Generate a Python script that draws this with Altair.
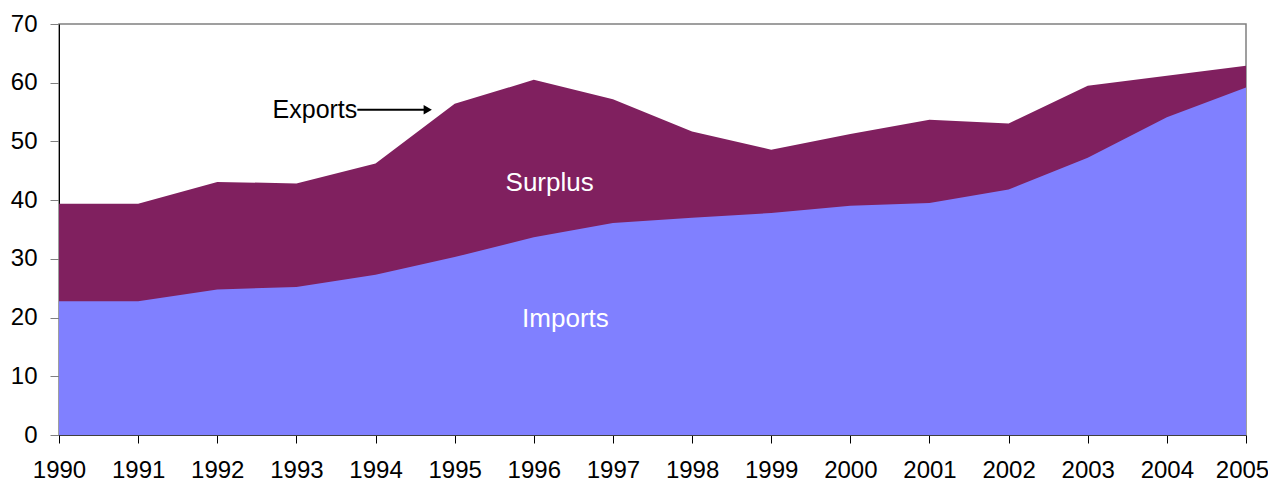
import altair as alt
import pandas as pd

years = list(range(1990, 2006))
exports = [39.4, 39.4, 43.1, 42.85, 46.25, 56.4, 60.5, 57.2, 51.7, 48.6, 51.25, 53.7, 53.05, 59.5, 61.2, 62.9]
imports = [22.8, 22.8, 24.8, 25.2, 27.3, 30.3, 33.7, 36.1, 37.0, 37.8, 39.05, 39.5, 41.8, 47.2, 54.1, 59.2]

df = pd.DataFrame({"year": years, "exports": exports, "imports": imports})

FONT = "Liberation Sans"
xs = alt.Scale(domain=[1990, 2005], nice=False, zero=False)
ys = alt.Scale(domain=[0, 70], nice=False)

x_enc = alt.X("year:Q", scale=xs, axis=alt.Axis(
    values=years, format="d", title=None, grid=False,
    labelFontSize=24, labelFont=FONT, labelColor="#000000",
    labelPadding=15, tickSize=8, tickColor="#000000",
    domainColor="#404040", labelFlush=False,
    labelOffset={"expr": "datum.value == 2005 ? -4 : 0"}))

exp_area = alt.Chart(df).mark_area(color="#80205F", opacity=1).encode(
    x=x_enc,
    y=alt.Y("exports:Q", scale=ys, axis=alt.Axis(
        values=list(range(0, 80, 10)), title=None, grid=False,
        labelFontSize=24, labelFont=FONT, labelColor="#000000",
        labelPadding=13, tickSize=9, tickColor="#808080",
        domainColor="#000000")),
)

imp_area = alt.Chart(df).mark_area(color="#8080FF", opacity=1).encode(
    x=alt.X("year:Q", scale=xs),
    y=alt.Y("imports:Q", scale=ys),
)

lab_df = pd.DataFrame({
    "x": [1996.2, 1996.4],
    "y": [43.0, 19.7],
    "t": ["Surplus", "Imports"],
})
labels = alt.Chart(lab_df).mark_text(
    color="white", fontSize=26, font=FONT, align="center", baseline="middle"
).encode(x=alt.X("x:Q", scale=xs), y=alt.Y("y:Q", scale=ys), text="t:N")

exp_df = pd.DataFrame({"x": [1993.77], "y": [55.4], "t": ["Exports"]})
exp_label = alt.Chart(exp_df).mark_text(
    color="black", fontSize=25, font=FONT, align="right", baseline="middle"
).encode(x=alt.X("x:Q", scale=xs), y=alt.Y("y:Q", scale=ys), text="t:N")

arrow_df = pd.DataFrame({"x": [1993.77], "x2": [1994.62], "y": [55.4]})
arrow_line = alt.Chart(arrow_df).mark_rule(color="black", strokeWidth=2).encode(
    x=alt.X("x:Q", scale=xs), x2="x2:Q", y=alt.Y("y:Q", scale=ys))

head_df = pd.DataFrame({"x": [1994.66], "y": [55.4]})
arrow_head = alt.Chart(head_df).mark_point(
    shape="triangle-right", filled=True, color="black", size=90, opacity=1
).encode(x=alt.X("x:Q", scale=xs), y=alt.Y("y:Q", scale=ys))

chart = alt.layer(exp_area, imp_area, labels, exp_label, arrow_line, arrow_head).properties(
    width=1187, height=411,
    autosize=alt.AutoSizeParams(type="none"),
    padding={"left": 51, "top": 16, "right": 22, "bottom": 48},
).configure_view(stroke="#808080", strokeWidth=1.5)

chart.save("out.html", embed_options={"renderer": "svg", "actions": False})
